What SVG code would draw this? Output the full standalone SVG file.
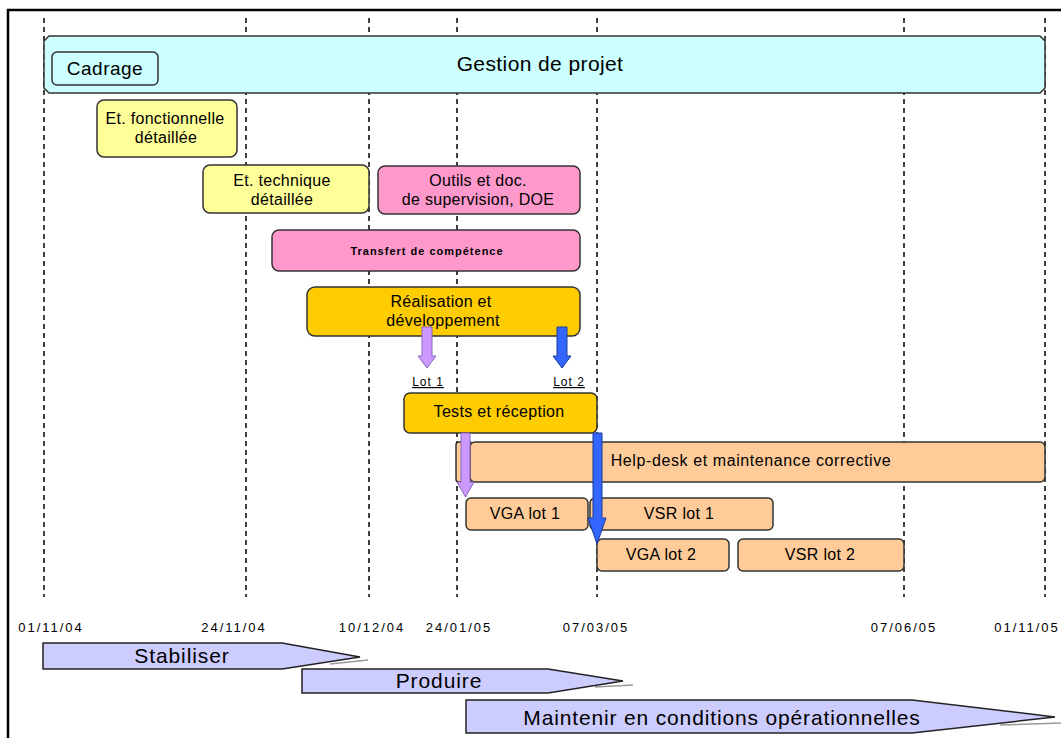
<svg xmlns="http://www.w3.org/2000/svg" width="1061" height="738" viewBox="0 0 1061 738">
<style>
text{font-family:"Liberation Sans",Arial,sans-serif;fill:#000;text-anchor:middle}
.box{stroke:#333;stroke-width:1.5}
.t16{font-size:16px;letter-spacing:0.3px}
.date{font-size:13px;letter-spacing:2px}
.phase{fill:#CCCCFF;stroke:#222;stroke-width:1.5}
.shadow{fill:none;stroke:#999;stroke-width:1.5}
.grid{stroke:#000;stroke-width:1.5;stroke-dasharray:5 4}
.lot{font-size:12px;letter-spacing:1px;text-decoration:underline}
</style>
<rect width="1061" height="738" fill="#fff"/>
<path d="M8,740 V10 H1063" fill="none" stroke="#000" stroke-width="2.5"/>
<g id="grid">
<line class="grid" x1="44" y1="18" x2="44" y2="597"/>
<line class="grid" x1="246" y1="18" x2="246" y2="597"/>
<line class="grid" x1="369" y1="18" x2="369" y2="597"/>
<line class="grid" x1="457" y1="18" x2="457" y2="597"/>
<line class="grid" x1="597" y1="18" x2="597" y2="597"/>
<line class="grid" x1="904" y1="18" x2="904" y2="597"/>
<line class="grid" x1="1045" y1="18" x2="1045" y2="597"/>
</g>
<g id="gestion">
<path class="box" fill="#CCFFFF" d="M49,36 H1040 L1045,41 V88 L1040,93 H49 L44,88 V41 Z"/>
<text x="540" y="71" style="font-size:21px;letter-spacing:0.4px">Gestion de projet</text>
</g>
<g id="cadrage">
<rect class="box" x="52" y="52" width="106" height="33" rx="5" fill="#CCFFFF"/>
<text x="105" y="75" style="font-size:19px;letter-spacing:0.5px">Cadrage</text>
</g>
<g id="et-fonct">
<rect class="box" x="97" y="100" width="140" height="57" rx="7" fill="#FFFF99"/>
<text class="t16" x="165" y="124">Et. fonctionnelle</text>
<text class="t16" x="166" y="143">détaillée</text>
</g>
<g id="et-tech">
<rect class="box" x="203" y="165" width="166" height="48" rx="7" fill="#FFFF99"/>
<text class="t16" x="282" y="186">Et. technique</text>
<text class="t16" x="282" y="205">détaillée</text>
</g>
<g id="outils">
<rect class="box" x="378" y="166" width="202" height="48" rx="7" fill="#FF99CC"/>
<text class="t16" x="478" y="186">Outils et doc.</text>
<text class="t16" x="478" y="205">de supervision, DOE</text>
</g>
<g id="transfert">
<rect class="box" x="272" y="230" width="308" height="41" rx="7" fill="#FF99CC"/>
<text x="427" y="255" style="font-size:11px;font-weight:bold;letter-spacing:1px">Transfert de compétence</text>
</g>
<g id="realisation">
<rect class="box" x="307" y="287" width="273" height="49" rx="8" fill="#FFCC00"/>
<text class="t16" x="441" y="307">Réalisation et</text>
<text class="t16" x="443" y="326">développement</text>
</g>
<g id="tests">
<rect class="box" x="404" y="393" width="193" height="40" rx="6" fill="#FFCC00"/>
<text class="t16" x="499" y="417">Tests et réception</text>
</g>
<g id="helpdesk">
<rect class="box" x="456" y="442" width="16" height="40" rx="3" fill="#FFCC99"/>
<rect class="box" x="470" y="442" width="575" height="40" rx="5" fill="#FFCC99"/>
<text class="t16" x="751" y="466" style="letter-spacing:0.6px">Help-desk et maintenance corrective</text>
</g>
<g id="vga1">
<rect class="box" x="466" y="498" width="122" height="32" rx="5" fill="#FFCC99"/>
<text class="t16" x="525" y="519">VGA lot 1</text>
</g>
<g id="vsr1">
<rect class="box" x="590" y="498" width="183" height="32" rx="5" fill="#FFCC99"/>
<text class="t16" x="679" y="519">VSR lot 1</text>
</g>
<g id="vga2">
<rect class="box" x="597" y="539" width="132" height="32" rx="5" fill="#FFCC99"/>
<text class="t16" x="661" y="560">VGA lot 2</text>
</g>
<g id="vsr2">
<rect class="box" x="738" y="539" width="166" height="32" rx="5" fill="#FFCC99"/>
<text class="t16" x="820" y="560">VSR lot 2</text>
</g>
<g id="connectors">
<path d="M422,327 H432 V356 H436 L427,368 L418,356 H422 Z" fill="#CC99FF" stroke="#8866BB" stroke-width="1"/>
<path d="M557,327 H567 V356 H571 L562,368 L553,356 H557 Z" fill="#3366FF" stroke="#1A3A99" stroke-width="1"/>
<path d="M461,433 H470 V482 H474 L465.5,497 L457,482 H461 Z" fill="#CC99FF" stroke="#8866BB" stroke-width="1"/>
<path d="M593,433 H602 V518 H606 L597,544 L588,518 H593 Z" fill="#3366FF" stroke="#1A3A99" stroke-width="1"/>
</g>
<g id="lots">
<text class="lot" x="428" y="386">Lot 1</text>
<text class="lot" x="569" y="386">Lot 2</text>
</g>
<g id="dates">
<text class="date" x="51" y="632">01/11/04</text>
<text class="date" x="234" y="632">24/11/04</text>
<text class="date" x="372" y="632">10/12/04</text>
<text class="date" x="459" y="632">24/01/05</text>
<text class="date" x="596" y="632">07/03/05</text>
<text class="date" x="904" y="632">07/06/05</text>
<text class="date" x="1027" y="632">01/11/05</text>
</g>
<g id="stabiliser">
<polyline class="shadow" points="330,664 368,660"/>
<path class="phase" d="M43,643 H282 L360,657 L282,669 H43 Z"/>
<text x="182" y="663" style="font-size:21px;letter-spacing:0.9px">Stabiliser</text>
</g>
<g id="produire">
<polyline class="shadow" points="595,687 633,685"/>
<path class="phase" d="M302,669 H548 L623,681 L548,693 H302 Z"/>
<text x="439" y="688" style="font-size:21px;letter-spacing:0.9px">Produire</text>
</g>
<g id="maintenir">
<polyline class="shadow" points="1000,725 1062,723"/>
<path class="phase" d="M466,700 H912 L1055,717 L912,733 H466 Z"/>
<text x="722" y="725" style="font-size:21px;letter-spacing:0.85px">Maintenir en conditions opérationnelles</text>
</g>
</svg>
